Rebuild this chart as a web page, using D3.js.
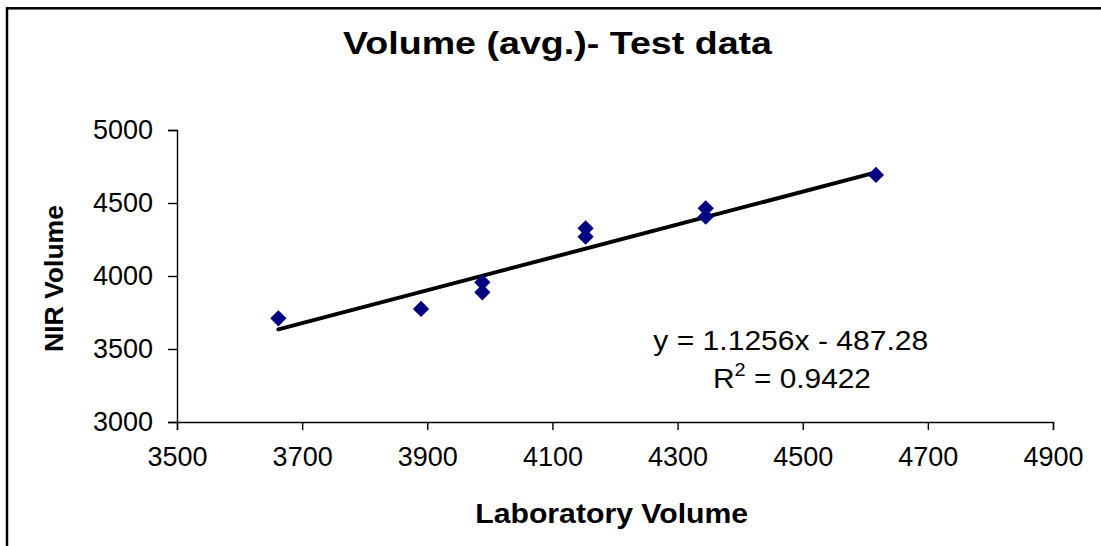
<!DOCTYPE html>
<html>
<head>
<meta charset="utf-8">
<script src="https://cdn.jsdelivr.net/npm/d3@7"></script>
<style>
  html, body { margin: 0; padding: 0; background: #fff; }
  svg { display: block; font-family: "Liberation Sans", Arial, sans-serif; }
</style>
</head>
<body>
<svg id="chart" width="1101" height="546"></svg>
<script>
// ---- data ----
const labVolume = [3662, 3890, 3988, 3988, 4153, 4153, 4345, 4345, 4617];
const nirVolume = [3710, 3774, 3957, 3888, 4327, 4269, 4464, 4406, 4692];
const xTicks = [3500, 3700, 3900, 4100, 4300, 4500, 4700, 4900];
const yTicks = [3000, 3500, 4000, 4500, 5000];
const trendSlope = 1.1256;
const trendIntercept = -487.28;
const r2 = 0.9422;
const titleText = "Volume (avg.)- Test data";
const xLabel = "Laboratory Volume";
const yLabel = "NIR Volume";

const svg = d3.select("#chart");

// outer frame
svg.append("rect")
  .attr("x", 7).attr("y", 8.3)
  .attr("width", 1200).attr("height", 700)
  .attr("fill", "none").attr("stroke", "#000").attr("stroke-width", 2.5);

const x = d3.scaleLinear().domain([3500, 4900]).range([177, 1053]);
const y = d3.scaleLinear().domain([3000, 5000]).range([422, 130]);

// axes
const xAxis = svg.append("g")
  .attr("transform", `translate(0,${y(3000)})`)
  .call(d3.axisBottom(x).tickValues(xTicks).tickSize(8).tickPadding(17).tickFormat(d3.format("d")));
const yAxis = svg.append("g")
  .attr("transform", `translate(${x(3500)},0)`)
  .call(d3.axisLeft(y).tickValues(yTicks).tickSize(9).tickPadding(15).tickFormat(d3.format("d")));

[xAxis, yAxis].forEach(g => {
  g.select(".domain").attr("stroke", "#000").attr("stroke-width", 1.4);
  g.selectAll(".tick line").attr("stroke", "#000").attr("stroke-width", 1.4);
  g.selectAll(".tick text").attr("fill", "#000")
    .style("font-size", "27px").style("font-family", '"Liberation Sans", Arial, sans-serif');
});

// trend line
const xr = d3.extent(labVolume);
svg.append("line")
  .attr("x1", x(xr[0])).attr("y1", y(trendSlope * xr[0] + trendIntercept))
  .attr("x2", x(xr[1])).attr("y2", y(trendSlope * xr[1] + trendIntercept))
  .attr("stroke", "#000").attr("stroke-width", 4).attr("stroke-linecap", "round");

// points
const diamond = d3.symbol().type(d3.symbolSquare).size(132);
svg.append("g").selectAll("path")
  .data(labVolume.map((v, i) => [v, nirVolume[i]]))
  .join("path")
  .attr("d", diamond)
  .attr("transform", d => `translate(${x(d[0])},${y(d[1])}) rotate(45)`)
  .attr("fill", "#000080");

// title
svg.append("text")
  .attr("x", 557.5).attr("y", 54)
  .attr("text-anchor", "middle")
  .attr("textLength", 429).attr("lengthAdjust", "spacingAndGlyphs")
  .style("font-size", "31px").style("font-weight", "bold")
  .text(titleText);

// axis titles
svg.append("text")
  .attr("x", 611.7).attr("y", 523)
  .attr("text-anchor", "middle")
  .attr("textLength", 273).attr("lengthAdjust", "spacingAndGlyphs")
  .style("font-size", "28px").style("font-weight", "bold")
  .text(xLabel);

svg.append("text")
  .attr("transform", "translate(63,278.5) rotate(-90)")
  .attr("text-anchor", "middle")
  .attr("textLength", 147).attr("lengthAdjust", "spacingAndGlyphs")
  .style("font-size", "25px").style("font-weight", "bold")
  .text(yLabel);

// equation
svg.append("text")
  .attr("x", 790.8).attr("y", 350)
  .attr("text-anchor", "middle")
  .attr("textLength", 275).attr("lengthAdjust", "spacingAndGlyphs")
  .style("font-size", "27px")
  .text(`y = ${trendSlope}x - ${Math.abs(trendIntercept)}`);

const rt = svg.append("text")
  .attr("x", 792).attr("y", 388)
  .attr("text-anchor", "middle")
  .attr("textLength", 158).attr("lengthAdjust", "spacingAndGlyphs")
  .style("font-size", "27px");
rt.append("tspan").text("R");
rt.append("tspan").attr("dy", -12).style("font-size", "18px").text("2");
rt.append("tspan").attr("dy", 12).text(` = ${r2}`);
</script>
</body>
</html>
